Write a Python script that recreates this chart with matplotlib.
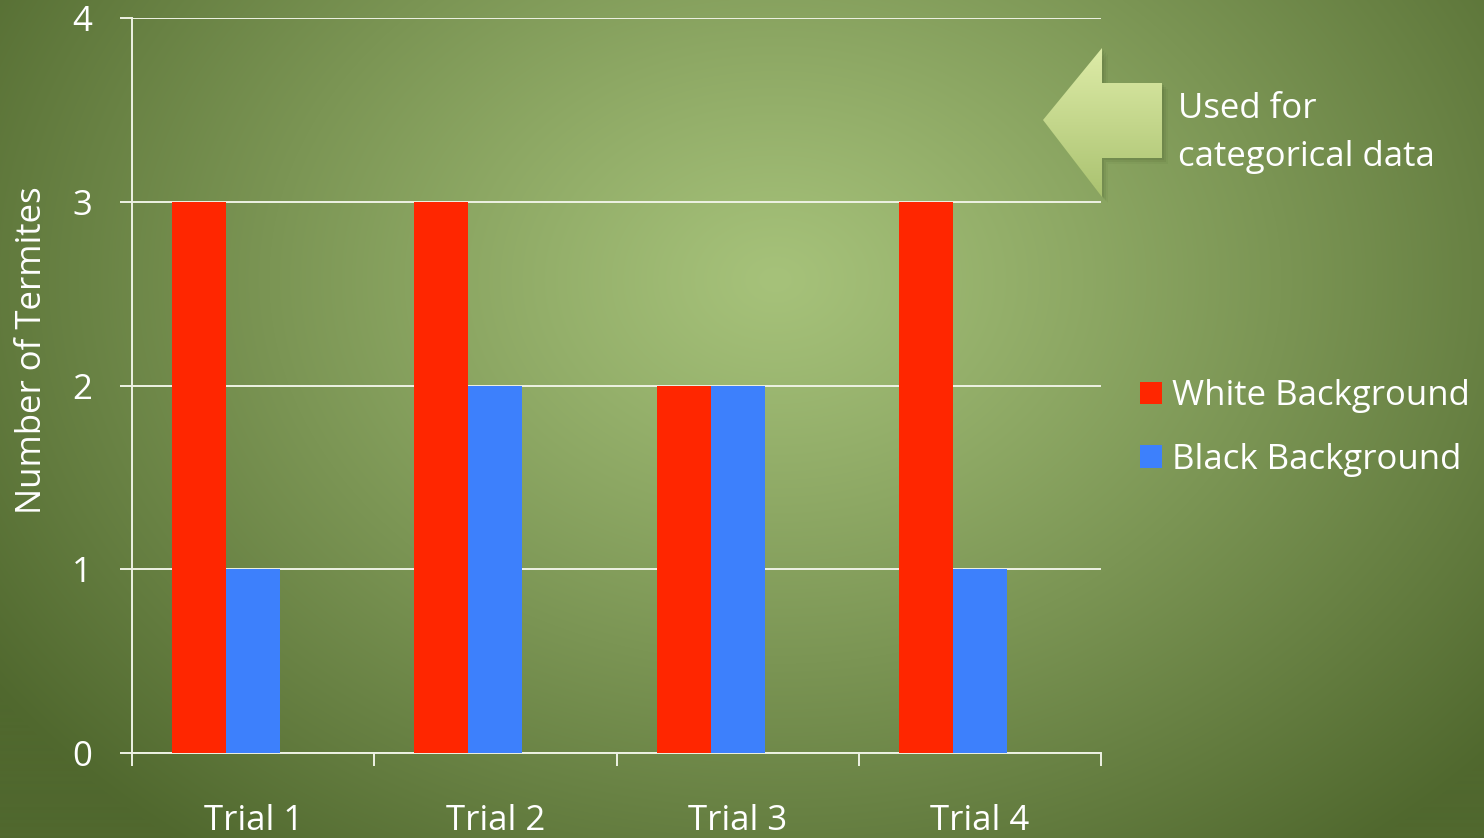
import numpy as np
import matplotlib
matplotlib.use("Agg")
import matplotlib.pyplot as plt
from matplotlib.patches import Polygon

categories = ["Trial 1", "Trial 2", "Trial 3", "Trial 4"]
white_bg = [3, 3, 2, 3]
black_bg = [1, 2, 2, 1]
series_names = ["White Background", "Black Background"]
y_ticks = [0, 1, 2, 3, 4]

plt.rcParams['font.family'] = ['Open Sans', 'DejaVu Sans']

W, H = 1484, 838
FS = 25
fig = plt.figure(figsize=(W / 100, H / 100), dpi=100)

# background radial gradient
ax_bg = fig.add_axes([0, 0, 1, 1])
ax_bg.axis('off')
yy, xx = np.mgrid[0:H, 0:W]
d = np.sqrt(((xx - 775) / 950.0) ** 2 + ((yy - 280) / 720.0) ** 2)
t = np.clip(d, 0, 1) ** 1.1
light = np.array([166, 194, 122]) / 255.0
dark = np.array([80, 104, 46]) / 255.0
img = light[None, None, :] * (1 - t[..., None]) + dark[None, None, :] * t[..., None]
ax_bg.imshow(img, extent=(0, W, H, 0), aspect='auto', zorder=0)

# arrow
arrow_pts = [(1043, 120), (1102, 48), (1102, 83), (1162, 83), (1162, 158), (1102, 158), (1102, 197)]
for k, a in [(2, 0.10), (4, 0.08), (6, 0.05)]:
    ax_bg.add_patch(Polygon([(px + k, py + k) for px, py in arrow_pts], closed=True,
                            facecolor='#2f401a', alpha=a, edgecolor='none', zorder=1))
arrow = Polygon(arrow_pts, closed=True, facecolor='none', edgecolor='none', zorder=2)
ax_bg.add_patch(arrow)
gy = np.linspace(0, 1, 100)[:, None] * np.ones((1, 50))
top_c = np.array([222, 236, 168]) / 255.0
bot_c = np.array([170, 194, 112]) / 255.0
grad = top_c[None, None, :] * (1 - gy[..., None]) + bot_c[None, None, :] * gy[..., None]
gim = ax_bg.imshow(grad, extent=(1043, 1162, 197, 48), aspect='auto', zorder=2)
gim.set_clip_path(arrow)
ax_bg.set_xlim(0, W)
ax_bg.set_ylim(H, 0)

fig.text(1178 / W, 1 - 118 / H, "Used for", color='white', fontsize=FS, va='baseline', ha='left')
fig.text(1178 / W, 1 - 166 / H, "categorical data", color='white', fontsize=FS, va='baseline', ha='left')

# main axes
left, right = 132 / W, 1101 / W
bottom, top = 1 - 753 / H, 1 - 18 / H
ax = fig.add_axes([left, bottom, right - left, top - bottom])
ax.patch.set_visible(False)

x = np.arange(len(categories))
bw = 0.223
ax.bar(x - 1.5 * bw, white_bg, width=bw, align='edge', color='#ff2600', label=series_names[0], zorder=3)
ax.bar(x - 0.5 * bw, black_bg, width=bw, align='edge', color='#3d80fc', label=series_names[1], zorder=3)

ax.set_xlim(-0.5, len(categories) - 0.5)
ax.set_ylim(0, 4)
ax.set_yticks(y_ticks)
ax.set_yticklabels([str(v) for v in y_ticks])
ax.set_xticks(x)
ax.set_xticklabels(categories)
ax.set_xticks(np.arange(len(categories) + 1) - 0.5, minor=True)

gc = '#eef2e4'
ax.grid(axis='y', color=gc, linewidth=1.4, zorder=1)
ax.set_axisbelow(True)
for s in ['top', 'right']:
    ax.spines[s].set_visible(False)
for s in ['left', 'bottom']:
    ax.spines[s].set_color(gc)
    ax.spines[s].set_linewidth(1.4)

ax.tick_params(axis='x', which='major', length=0, pad=37, labelsize=FS, labelcolor='white')
ax.tick_params(axis='x', which='minor', length=9, width=1.4, color=gc, direction='out')
ax.tick_params(axis='y', which='major', length=9, width=1.4, color=gc, direction='out', pad=20,
               labelsize=FS, labelcolor='white')

ax.set_ylabel("Number of Termites", color='white', fontsize=FS)
ax.yaxis.set_label_coords(-0.086, 0.548)

leg = ax.legend(loc='center left', bbox_to_anchor=(1140 / W, 1 - 428 / H), bbox_transform=fig.transFigure,
                frameon=False, fontsize=FS, labelcolor='white', handlelength=0.62, handleheight=0.62,
                handletextpad=0.3, labelspacing=0.85, borderpad=0, borderaxespad=0)

fig.savefig("out.png", dpi=100)
